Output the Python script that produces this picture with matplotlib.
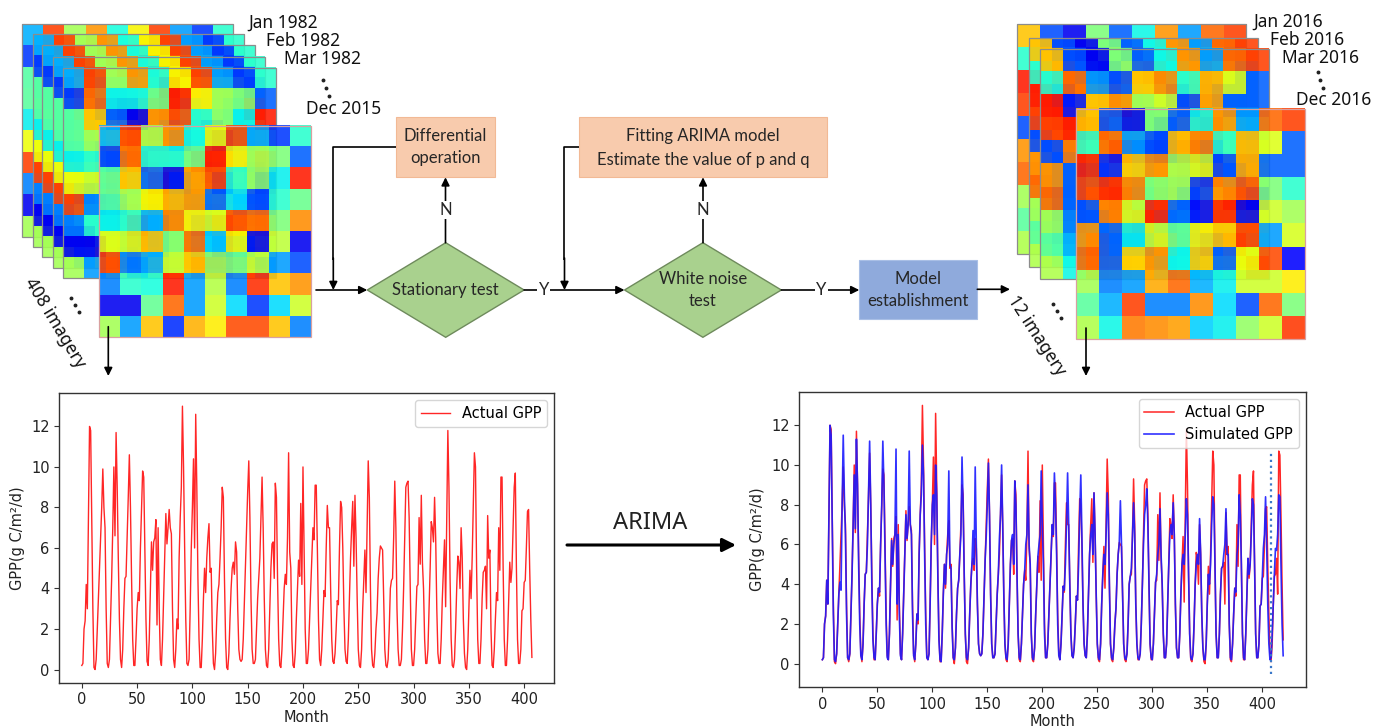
import numpy as np
import matplotlib.pyplot as plt
from matplotlib.patches import Rectangle, Polygon

# ---- data -------------------------------------------------------------
# monthly GPP, Jan 1982 .. Dec 2015 (one row per year)
actual_rows = [
    [0.2, 0.3, 2.0, 2.4, 4.2, 3.0, 7.5, 12.0, 11.8, 7.5, 3.0, 0.1],
    [0.0, 0.5, 2.0, 3.5, 5.0, 6.5, 8.0, 9.9, 8.0, 7.0, 3.0, 0.3],
    [0.1, 0.5, 2.5, 4.5, 7.0, 10.0, 6.6, 11.7, 9.0, 5.5, 2.5, 0.5],
    [0.1, 1.0, 3.0, 4.5, 4.6, 6.5, 8.5, 10.6, 8.0, 4.5, 1.5, 0.2],
    [0.2, 1.5, 3.0, 3.8, 3.4, 6.0, 8.0, 9.8, 9.5, 6.0, 2.5, 0.4],
    [0.2, 1.5, 4.0, 6.3, 4.9, 6.3, 6.5, 7.4, 2.2, 7.0, 3.0, 0.5],
    [0.2, 1.5, 3.5, 5.5, 7.7, 6.2, 7.0, 7.9, 7.0, 6.7, 3.0, 0.5],
    [0.1, 1.0, 2.5, 2.0, 5.5, 7.5, 9.0, 13.0, 10.0, 6.0, 2.5, 0.3],
    [0.2, 0.5, 3.0, 6.0, 8.0, 10.4, 6.0, 12.6, 9.0, 4.5, 1.5, 0.1],
    [0.1, 1.5, 3.5, 5.0, 3.8, 5.5, 6.5, 7.2, 4.8, 5.0, 2.0, 0.3],
    [0.0, 0.8, 2.5, 3.8, 4.2, 5.5, 7.0, 9.0, 8.5, 4.5, 1.5, 0.1],
    [0.0, 0.8, 2.5, 4.0, 5.0, 5.3, 4.7, 6.3, 5.8, 3.0, 1.0, 0.5],
    [0.4, 0.5, 1.5, 3.3, 5.2, 7.0, 8.8, 10.3, 7.5, 3.5, 1.0, 0.3],
    [0.3, 0.5, 2.0, 3.5, 4.5, 5.5, 7.5, 9.5, 7.0, 3.5, 1.0, 0.2],
    [0.1, 1.0, 3.0, 5.0, 6.2, 6.3, 4.5, 9.2, 8.5, 4.5, 1.5, 0.2],
    [0.1, 1.0, 2.5, 4.0, 4.7, 4.2, 6.5, 10.7, 5.8, 5.0, 1.5, 0.2],
    [0.1, 0.8, 2.5, 4.0, 5.4, 4.6, 8.2, 4.2, 10.0, 6.0, 2.0, 0.3],
    [0.3, 1.0, 2.5, 4.0, 5.5, 7.0, 6.4, 9.1, 9.1, 6.0, 2.5, 0.5],
    [0.2, 1.0, 2.5, 3.9, 3.6, 6.0, 8.1, 7.0, 7.0, 4.0, 1.5, 0.4],
    [0.3, 0.8, 2.0, 3.4, 3.2, 6.0, 8.3, 8.0, 6.0, 3.0, 1.0, 0.4],
    [0.3, 1.5, 3.5, 5.5, 7.0, 8.3, 5.1, 8.6, 6.5, 3.5, 1.0, 0.2],
    [0.1, 1.0, 3.0, 4.5, 5.9, 3.8, 7.0, 10.3, 8.5, 4.0, 1.0, 0.2],
    [0.1, 0.8, 2.0, 2.8, 4.5, 5.5, 6.1, 6.0, 5.9, 3.5, 1.0, 0.2],
    [0.1, 0.5, 2.0, 4.0, 4.4, 4.5, 6.5, 9.3, 7.0, 3.0, 1.0, 0.2],
    [0.2, 0.5, 2.0, 4.0, 6.5, 9.0, 9.2, 9.3, 7.5, 4.0, 1.0, 0.2],
    [0.2, 1.0, 2.5, 4.1, 4.2, 7.5, 5.2, 8.6, 5.3, 4.0, 1.5, 0.3],
    [0.3, 1.0, 3.0, 5.0, 7.3, 7.0, 6.3, 8.5, 6.5, 3.0, 0.8, 0.3],
    [0.3, 1.5, 3.5, 5.0, 6.4, 3.1, 7.5, 11.8, 9.0, 4.5, 1.5, 0.2],
    [0.1, 0.5, 2.0, 4.0, 5.6, 5.3, 4.0, 7.0, 5.5, 2.5, 0.8, 0.1],
    [0.0, 1.0, 3.0, 4.9, 3.5, 5.5, 8.0, 10.7, 10.0, 5.0, 1.5, 0.3],
    [0.3, 1.5, 3.5, 4.8, 4.9, 5.1, 3.0, 7.6, 5.5, 5.9, 2.0, 0.2],
    [0.1, 1.0, 2.5, 3.8, 3.4, 7.0, 4.9, 9.5, 9.5, 5.0, 1.5, 0.2],
    [0.2, 1.5, 3.5, 5.3, 4.3, 5.0, 7.0, 9.0, 9.7, 5.0, 1.5, 0.3],
    [0.3, 1.0, 2.9, 3.0, 4.3, 4.4, 6.0, 7.8, 7.9, 5.0, 2.5, 0.6],
]
# observed 2016
actual_2016 = [0.1, 1.0, 2.9, 4.4, 4.5, 5.3, 3.5, 10.7, 10.5, 7.5, 4.0, 1.2]

# ARIMA simulated GPP, Jan 1982 .. Dec 2016
simulated_rows = [
    [0.2, 0.3, 2.0, 2.4, 4.2, 3.0, 7.5, 12.0, 11.5, 7.0, 2.5, 0.2],
    [0.1, 0.5, 2.0, 3.5, 4.1, 3.7, 8.0, 11.5, 8.5, 6.5, 2.5, 0.3],
    [0.2, 0.5, 2.5, 4.5, 7.0, 9.5, 6.8, 11.3, 9.0, 5.0, 2.0, 0.4],
    [0.2, 1.0, 3.0, 4.5, 4.6, 6.0, 8.5, 11.2, 8.0, 4.0, 1.2, 0.3],
    [0.2, 1.5, 3.0, 3.8, 3.6, 6.0, 8.0, 11.2, 9.0, 5.5, 2.0, 0.3],
    [0.2, 1.5, 4.0, 6.2, 5.0, 6.0, 6.5, 10.8, 3.0, 6.5, 2.5, 0.4],
    [0.2, 1.5, 3.5, 5.5, 7.5, 6.3, 7.0, 10.7, 7.0, 6.5, 2.5, 0.4],
    [0.2, 1.0, 2.5, 2.2, 5.5, 7.5, 8.5, 11.0, 9.5, 5.5, 2.0, 0.3],
    [0.2, 0.5, 3.0, 6.0, 8.0, 8.5, 6.5, 10.0, 8.5, 4.5, 1.2, 0.2],
    [0.1, 1.5, 3.5, 5.0, 4.0, 5.5, 6.0, 9.7, 5.0, 4.8, 1.8, 0.3],
    [0.2, 0.8, 2.5, 3.8, 4.2, 5.5, 6.5, 10.4, 8.0, 4.5, 1.5, 0.3],
    [0.2, 0.8, 2.5, 4.0, 5.0, 6.7, 5.0, 9.9, 6.0, 3.0, 1.0, 0.5],
    [0.4, 0.5, 1.5, 3.3, 5.2, 6.4, 8.0, 10.1, 7.5, 3.5, 1.0, 0.3],
    [0.3, 0.5, 2.0, 3.5, 4.5, 6.3, 7.5, 10.0, 7.0, 3.5, 1.0, 0.3],
    [0.2, 1.0, 3.0, 5.0, 6.2, 6.5, 5.0, 9.2, 8.0, 4.5, 1.5, 0.3],
    [0.2, 1.0, 2.5, 4.0, 4.7, 6.0, 6.5, 9.0, 6.0, 5.0, 1.5, 0.3],
    [0.2, 0.8, 2.5, 4.0, 5.4, 6.0, 6.5, 9.7, 7.0, 5.0, 1.5, 0.3],
    [0.3, 1.0, 2.5, 4.0, 5.5, 7.0, 6.5, 9.6, 8.0, 5.5, 2.0, 0.4],
    [0.2, 1.0, 2.5, 3.9, 3.7, 5.0, 7.0, 9.6, 7.0, 4.0, 1.5, 0.4],
    [0.3, 0.8, 2.0, 3.4, 3.2, 5.0, 7.5, 9.5, 6.5, 3.0, 1.0, 0.4],
    [0.3, 1.5, 3.5, 5.5, 6.5, 7.0, 5.5, 8.6, 6.5, 3.5, 1.0, 0.3],
    [0.2, 1.0, 3.0, 4.5, 5.5, 5.0, 6.5, 8.6, 7.5, 4.0, 1.0, 0.3],
    [0.2, 0.8, 2.0, 2.8, 4.5, 5.5, 6.1, 8.2, 6.0, 3.5, 1.0, 0.3],
    [0.2, 0.5, 2.0, 4.0, 4.4, 4.8, 6.5, 8.1, 6.5, 3.0, 1.0, 0.3],
    [0.2, 0.5, 2.0, 4.0, 6.0, 7.5, 8.0, 8.8, 7.0, 4.0, 1.0, 0.3],
    [0.2, 1.0, 2.5, 4.1, 4.5, 5.5, 6.0, 7.8, 5.5, 4.0, 1.5, 0.3],
    [0.3, 1.0, 3.0, 5.0, 6.5, 7.0, 6.5, 8.1, 6.5, 3.0, 0.8, 0.3],
    [0.3, 1.5, 3.5, 5.0, 5.5, 5.0, 6.5, 8.3, 7.5, 4.5, 1.5, 0.3],
    [0.2, 0.5, 2.0, 4.0, 5.0, 5.5, 5.0, 7.3, 5.5, 2.5, 0.8, 0.2],
    [0.2, 1.0, 3.0, 4.5, 4.0, 5.0, 7.0, 8.4, 8.0, 5.0, 1.5, 0.3],
    [0.3, 1.5, 3.5, 4.8, 4.9, 5.5, 6.0, 7.8, 5.5, 5.5, 2.0, 0.3],
    [0.2, 1.0, 2.5, 3.8, 3.6, 5.5, 6.0, 8.5, 7.5, 5.0, 1.5, 0.3],
    [0.2, 1.5, 3.5, 5.3, 4.5, 5.0, 6.5, 8.3, 8.0, 5.0, 1.5, 0.3],
    [0.3, 1.0, 2.9, 3.0, 4.3, 5.8, 6.5, 8.4, 6.0, 3.0, 1.0, 0.2],
    [0.3, 1.5, 3.0, 4.5, 5.8, 5.7, 6.5, 8.5, 8.4, 5.0, 2.0, 0.4],
]
split_month = 408

# 10x10 GPP-like rasters (scaled 0..1) shown as image stacks
grid_hist = [
    [0.30, 0.84, 0.55, 0.75, 0.38, 0.65, 0.84, 0.28, 0.18, 0.40],
    [0.18, 0.80, 0.37, 0.37, 0.48, 0.88, 0.66, 0.55, 0.50, 0.22],
    [0.45, 0.70, 0.22, 0.10, 0.75, 0.83, 0.40, 0.52, 0.36, 0.88],
    [0.46, 0.55, 0.65, 0.73, 0.76, 0.22, 0.34, 0.20, 0.40, 0.48],
    [0.36, 0.40, 0.30, 0.78, 0.66, 0.62, 0.83, 0.80, 0.50, 0.76],
    [0.64, 0.60, 0.70, 0.50, 0.80, 0.33, 0.65, 0.10, 0.58, 0.10],
    [0.84, 0.25, 0.30, 0.58, 0.70, 0.52, 0.48, 0.58, 0.28, 0.20],
    [0.25, 0.40, 0.38, 0.88, 0.28, 0.57, 0.25, 0.86, 0.70, 0.75],
    [0.10, 0.10, 0.47, 0.80, 0.28, 0.60, 0.34, 0.18, 0.34, 0.60],
    [0.55, 0.28, 0.70, 0.17, 0.72, 0.66, 0.83, 0.83, 0.70, 0.25],
]
grid_pred = [
    [0.70, 0.20, 0.10, 0.50, 0.22, 0.37, 0.75, 0.28, 0.80, 0.84],
    [0.40, 0.80, 0.27, 0.20, 0.70, 0.76, 0.40, 0.72, 0.62, 0.22],
    [0.88, 0.15, 0.70, 0.76, 0.55, 0.60, 0.20, 0.74, 0.22, 0.22],
    [0.84, 0.88, 0.78, 0.50, 0.53, 0.18, 0.76, 0.82, 0.50, 0.40],
    [0.20, 0.78, 0.60, 0.88, 0.22, 0.12, 0.88, 0.10, 0.60, 0.55],
    [0.75, 0.22, 0.36, 0.60, 0.48, 0.66, 0.70, 0.85, 0.28, 0.61],
    [0.80, 0.22, 0.68, 0.75, 0.37, 0.70, 0.22, 0.64, 0.83, 0.12],
    [0.55, 0.25, 0.28, 0.73, 0.80, 0.30, 0.36, 0.60, 0.60, 0.66],
    [0.46, 0.30, 0.84, 0.25, 0.25, 0.76, 0.34, 0.20, 0.80, 0.50],
    [0.56, 0.37, 0.78, 0.76, 0.74, 0.33, 0.36, 0.53, 0.60, 0.85],
]
hist_labels = ['Jan 1982', 'Feb 1982', 'Mar 1982', 'Dec 2015']
pred_labels = ['Jan 2016', 'Feb 2016', 'Mar 2016', 'Dec 2016']

actual = np.concatenate(actual_rows)
actual_all = np.concatenate([actual, actual_2016])
simulated = np.concatenate(simulated_rows)

# ---- figure -----------------------------------------------------------
W, H = 1375, 728
fig = plt.figure(figsize=(W / 100, H / 100), dpi=100)
ax0 = fig.add_axes([0, 0, 1, 1])
ax0.axis('off')

TXT = 'Lato'
DATE = 'Noto Sans'


def stack(grid, boxes, front_ec):
    z = 1
    for i, (x0, y0, x1, y1) in enumerate(boxes):
        ax0.imshow(grid, cmap='jet', vmin=0, vmax=1, extent=(x0, x1, y1, y0),
                   interpolation='nearest', aspect='auto', alpha=0.88, zorder=z)
        ec = front_ec if i == len(boxes) - 1 else '#8c8c8c'
        ax0.add_patch(Rectangle((x0, y0), x1 - x0, y1 - y0, fill=False,
                                ec=ec, lw=0.9, zorder=z + 0.5))
        z += 1


stack(grid_hist, [(21.7, 24, 233.3, 236.7), (32.7, 34, 244, 246.7),
                  (42.3, 45, 254.7, 256.7), (53.3, 56.7, 265, 268.3),
                  (63.3, 68.3, 276, 278.3), (99.3, 126, 310.7, 337.3)], '#d9a0a0')
stack(grid_pred, [(1016.7, 24, 1246, 254), (1029, 37.7, 1257.7, 266.7),
                  (1040.3, 49.3, 1269.3, 279.3), (1076, 109, 1305, 339.3)], '#d9a0a0')

# stack labels
for lab, (x, y) in zip(hist_labels, [(283, 22.7), (303, 41), (323, 59.3), (343.3, 109.3)]):
    ax0.text(x, y, lab, fontsize=12.5, family=DATE, weight='medium', color='#111111',
             ha='center', va='center')
for lab, (x, y) in zip(pred_labels, [(1288.3, 21.7), (1307, 40), (1320.5, 58.3), (1333.5, 100)]):
    ax0.text(x, y, lab, fontsize=12.5, family=DATE, weight='medium', color='#111111',
             ha='center', va='center')
for (x, y) in [(323.5, 80), (326.5, 88), (329.5, 96), (1318.5, 72), (1320.5, 80), (1323.5, 88)]:
    ax0.plot(x, y, 'o', ms=1.8, color='#222', zorder=20)
ax0.text(55, 323, '408 imagery', rotation=-59, fontsize=12.5, family=DATE, weight='medium',
         color='#111111', ha='center', va='center', rotation_mode='anchor')
ax0.text(1036.7, 336, '12 imagery', rotation=-57, fontsize=12.5, family=DATE, weight='medium',
         color='#111111', ha='center', va='center', rotation_mode='anchor')
for (x, y) in [(71, 298), (75, 305), (79, 312), (1053, 304), (1057, 311), (1061, 318)]:
    ax0.plot(x, y, 'o', ms=1.8, color='#222', zorder=20)


def arrow(x0, y0, x1, y1, lw=1.2, ms=12):
    ax0.annotate('', xy=(x1, y1), xytext=(x0, y0), zorder=15,
                 arrowprops=dict(arrowstyle='-|>', color='black', lw=lw,
                                 mutation_scale=ms, shrinkA=0, shrinkB=0))


def line(xs, ys):
    ax0.plot(xs, ys, color='black', lw=1.2, zorder=15, solid_capstyle='butt')


# boxes
peach = '#f8cbad'
ax0.add_patch(Rectangle((396, 116.7), 99, 60.6, fc=peach, ec='#f2b995', lw=0.8, zorder=10))
ax0.add_patch(Rectangle((579, 116.7), 248, 60.6, fc=peach, ec='#f2b995', lw=0.8, zorder=10))
ax0.add_patch(Rectangle((859.3, 260), 118, 59, fc='#8faadc', ec='#a9bfe6', lw=0.8, zorder=10))
ax0.text(445.5, 147, 'Differential\noperation', fontsize=12, family=TXT, color='#262626',
         ha='center', va='center', linespacing=1.45, zorder=11)
ax0.text(703, 148, 'Fitting ARIMA model\nEstimate the value of p and q', fontsize=12,
         family=TXT, color='#262626', ha='center', va='center', linespacing=1.55, zorder=11)
ax0.text(918.3, 290, 'Model\nestablishment', fontsize=12, family=TXT, color='#262626',
         ha='center', va='center', linespacing=1.45, zorder=11)

# diamonds
green = '#a9d18e'
for cx in [445.7, 702.9]:
    ax0.add_patch(Polygon([(cx - 78.4, 290), (cx, 242.7), (cx + 78.4, 290), (cx, 337.3)],
                          closed=True, fc=green, ec='#6e8a5c', lw=1.0, zorder=10))
ax0.text(445.7, 290, 'Stationary test', fontsize=12, family=TXT, color='#262626',
         ha='center', va='center', zorder=11)
ax0.text(702.9, 290, 'White noise\ntest', fontsize=12, family=TXT, color='#262626',
         ha='center', va='center', linespacing=1.4, zorder=11)

# flow lines
arrow(316, 290, 367.3, 290)
line([396, 333.3, 333.3], [146.7, 146.7, 260])
arrow(333.3, 258, 333.3, 290)
arrow(445.5, 242.7, 445.5, 177.3)
arrow(524.1, 290, 624.5, 290)
line([579, 564.5, 564.5], [146.7, 146.7, 260])
arrow(564.5, 258, 564.5, 290)
arrow(703, 242.7, 703, 177.3)
arrow(781.3, 290, 859.3, 290)
arrow(977.3, 289.3, 1010, 289.3)
arrow(108.3, 326.7, 108.3, 376)
arrow(1086, 328, 1086, 376)
for (x, y, s) in [(445.5, 210, 'N'), (703, 210, 'N'), (543.7, 290, 'Y'), (821.5, 290, 'Y')]:
    ax0.text(x, y, s, fontsize=12, family=TXT, color='#262626', ha='center', va='center',
             zorder=16, bbox=dict(fc='white', ec='none', pad=1.0))

# ARIMA arrow between the two charts
ax0.text(650, 523, 'ARIMA', fontsize=17, family=DATE, color='#222', ha='center', va='center')
arrow(567, 545, 736, 545, lw=2.2, ms=20)

ax0.set_xlim(0, W)
ax0.set_ylim(H, 0)


def style(ax):
    for s in ax.spines.values():
        s.set_color('#333333')
        s.set_linewidth(1.0)
    ax.set_xticks(range(0, 401, 50))
    ax.set_yticks(range(0, 13, 2))
    ax.tick_params(labelsize=10.5, colors='#333333', labelcolor='#222222')
    ax.set_xlabel('Month', fontsize=10.5, color='#222222', labelpad=2)
    ax.set_ylabel('GPP(g C/m²/d)', fontsize=10.5, color='#222222')


# left chart: observed series
ax1 = fig.add_axes([59.3 / W, (H - 682.7) / H, (554.4 - 59.3) / W, (682.7 - 393) / H])
ax1.plot(np.arange(len(actual)), actual, color='red', lw=1.0, alpha=0.85, label='Actual GPP')
style(ax1)
ax1.legend(loc='upper right', fontsize=10.5)

# right chart: observed vs simulated
ax2 = fig.add_axes([799.3 / W, (H - 687) / H, (1306.2 - 799.3) / W, (687 - 392) / H])
ax2.plot(np.arange(len(actual_all)), actual_all, color='red', lw=1.1, alpha=0.85, label='Actual GPP')
ax2.plot(np.arange(len(simulated)), simulated, color='#1a1aff', lw=1.2, alpha=0.9, label='Simulated GPP')
ax2.vlines(split_month, -0.5, max(actual_2016), colors='#3a78c9', linestyles='dotted', lw=1.6)
style(ax2)
ax2.legend(loc='upper right', fontsize=10.5)

fig.savefig('out.png', dpi=100)
